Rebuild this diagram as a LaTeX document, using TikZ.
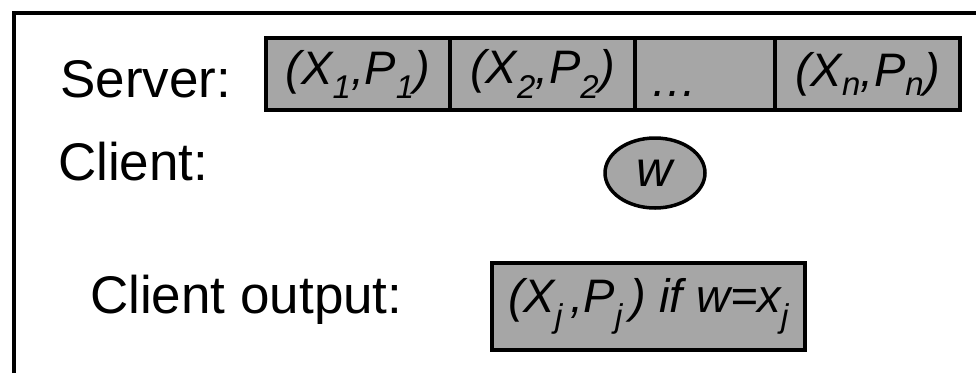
\documentclass[tikz,border=0pt]{standalone}
\usepackage{fontspec}
\setmainfont{Liberation Sans}
\usetikzlibrary{shapes.geometric}
\definecolor{cellgray}{gray}{0.65}
\newcommand{\sbj}[1]{\textsubscript{#1}}
\begin{document}
\begin{tikzpicture}[x=1pt,y=1pt,
  lbl/.style={anchor=base west,inner sep=0pt,font=\fontsize{53}{60}\selectfont},
  cell/.style={draw,line width=3.5pt,fill=cellgray,inner sep=0pt,minimum height=72pt,font=\fontsize{47}{54}\selectfont\itshape},
  frame/.style={line width=4pt}]
\useasboundingbox (0,0) rectangle (976,-373);
\coordinate (fbl) at (14,-373);
\coordinate (ftl) at (14,-13);
\coordinate (ftr) at (976,-13);
\draw[frame] (fbl) -- (ftl) -- (ftr);
\node[lbl] (server) at (60,-97) {Server:};
\node[lbl] (client) at (58,-180) {Client:};
\node[lbl] (cout) at (90,-313) {Client output:};
\node[cell,minimum width=184pt] (c1) at (358,-74) {(X\sbj{1},P\sbj{1})};
\node[cell,minimum width=185pt] (c2) at (542.5,-74) {(X\sbj{2},P\sbj{2})};
\node[cell,minimum width=140pt] (c3) at (705,-74) {};
\node[anchor=base west,inner sep=0pt,font=\fontsize{47}{54}\selectfont\itshape] (dots) at (650,-96) {\dots};
\node[cell,minimum width=185pt] (c4) at (867.5,-74) {(X\sbj{n},P\sbj{n})};
\node[draw,ellipse,line width=3.5pt,fill=cellgray,minimum width=100pt,minimum height=70pt,inner sep=0pt,font=\fontsize{50}{56}\selectfont\itshape] (w) at (655,-173) {w};
\node[cell,minimum width=313pt,minimum height=87pt] (out) at (648.5,-306.5) {(X\sbj{j}\,,P\sbj{j}\,) if w=x\sbj{j}};
\end{tikzpicture}
\end{document}
